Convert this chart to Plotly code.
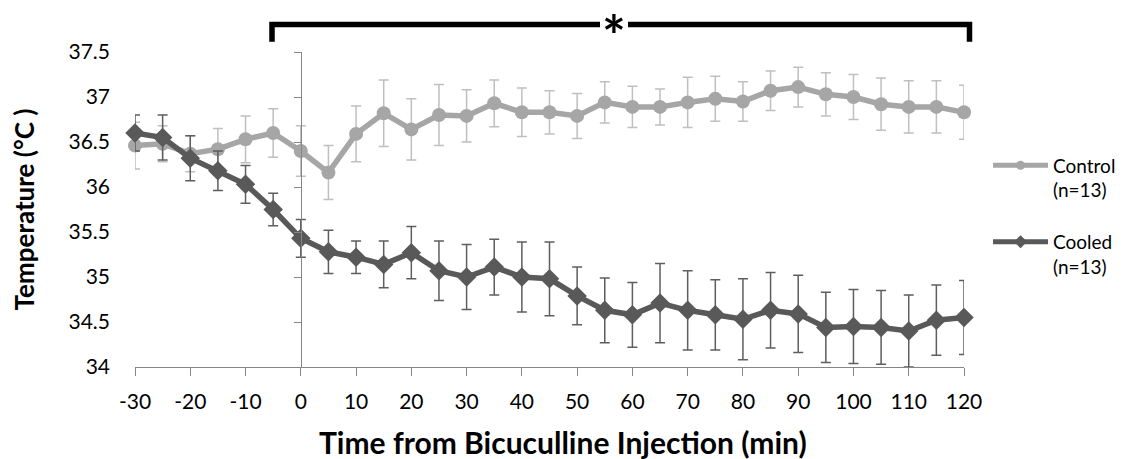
import plotly.graph_objects as go

time_min = [-30, -25, -20, -15, -10, -5, 0, 5, 10, 15, 20, 25, 30, 35, 40, 45,
            50, 55, 60, 65, 70, 75, 80, 85, 90, 95, 100, 105, 110, 115, 120]

control_mean = [36.46, 36.48, 36.37, 36.42, 36.53, 36.60, 36.40, 36.16, 36.59, 36.82,
                36.64, 36.80, 36.79, 36.93, 36.83, 36.83, 36.79, 36.94, 36.89, 36.89,
                36.94, 36.98, 36.95, 37.07, 37.11, 37.03, 37.00, 36.92, 36.89, 36.89, 36.83]
control_err = [0.26, 0.20, 0.20, 0.23, 0.26, 0.27, 0.28, 0.30, 0.31, 0.37,
               0.34, 0.34, 0.29, 0.26, 0.27, 0.24, 0.25, 0.23, 0.23, 0.20,
               0.28, 0.25, 0.22, 0.22, 0.22, 0.24, 0.25, 0.29, 0.29, 0.29, 0.30]

cooled_mean = [36.60, 36.55, 36.32, 36.18, 36.03, 35.75, 35.43, 35.28, 35.22, 35.14,
               35.27, 35.07, 35.00, 35.11, 35.00, 34.98, 34.79, 34.63, 34.58, 34.71,
               34.63, 34.58, 34.53, 34.63, 34.59, 34.44, 34.45, 34.44, 34.40, 34.52, 34.55]
cooled_err = [0.20, 0.25, 0.25, 0.22, 0.21, 0.18, 0.21, 0.24, 0.18, 0.26,
              0.29, 0.33, 0.36, 0.31, 0.39, 0.41, 0.32, 0.36, 0.36, 0.44,
              0.44, 0.39, 0.45, 0.42, 0.43, 0.39, 0.41, 0.41, 0.40, 0.39, 0.41]

x_ticks = list(range(-30, 121, 10))
y_ticks = [34, 34.5, 35, 35.5, 36, 36.5, 37, 37.5]
y_tick_text = ["34", "34.5", "35", "35.5", "36", "36.5", "37", "37.5"]

FONT = "Lato"
CONTROL = "#A6A6A6"
COOLED = "#595959"

fig = go.Figure()

fig.add_trace(go.Scatter(
    x=time_min, y=control_mean, mode="lines+markers", name="Control<br>(n=13)",
    line=dict(color=CONTROL, width=5.5), marker=dict(symbol="circle", size=14, color=CONTROL),
    error_y=dict(type="data", array=control_err, color="#BFBFBF", thickness=1.5, width=5),
    cliponaxis=False, showlegend=False))

fig.add_trace(go.Scatter(
    x=time_min, y=cooled_mean, mode="lines+markers", name="Cooled<br>(n=13)",
    line=dict(color=COOLED, width=5.5), marker=dict(symbol="diamond", size=15, color=COOLED),
    error_y=dict(type="data", array=cooled_err, color="#5E5E5E", thickness=1.5, width=5),
    cliponaxis=False, showlegend=False))

# legend entries
fig.add_trace(go.Scatter(x=[None], y=[None], mode="lines+markers", name="Control<br>(n=13)",
                         line=dict(color=CONTROL, width=5), marker=dict(symbol="circle", size=9, color=CONTROL),
                         legendgroup="a"))
fig.add_trace(go.Scatter(x=[None], y=[None], mode="lines+markers", name="Cooled<br>(n=13)",
                         line=dict(color=COOLED, width=5), marker=dict(symbol="diamond", size=10, color=COOLED),
                         legendgroup="b"))

# vertical axis line crossing at x = 0 (Excel style)
fig.update_layout(
    yaxis2=dict(overlaying="y", anchor="free", position=30 / 150, matches="y",
                range=[34, 37.5], showline=True, linecolor="#868686", linewidth=1,
                ticks="outside", ticklen=7, tickcolor="#868686", tickvals=y_ticks,
                showticklabels=False, showgrid=False, zeroline=False))
fig.add_trace(go.Scatter(x=[None], y=[None], yaxis="y2", showlegend=False, hoverinfo="skip"))

fig.update_xaxes(range=[-30, 120], tickvals=x_ticks, ticktext=[str(v) for v in x_ticks],
                 showline=True, linecolor="#868686", linewidth=1, ticks="outside", ticklen=8,
                 tickcolor="#868686", showgrid=False, zeroline=False,
                 ticklabelstandoff=8,
                 tickfont=dict(family=FONT, size=21, color="black"))
fig.update_layout(yaxis=dict(range=[34, 37.5], tickvals=y_ticks, ticktext=y_tick_text,
                             showline=False, ticks="", showgrid=False, zeroline=False,
                             ticklabelstandoff=24,
                             tickfont=dict(family=FONT, size=21, color="black"),
                             title=dict(text="<b>Temperature (°C )</b>",
                                        font=dict(family=FONT, size=26, color="black"), standoff=26)))

# x-axis title (placed slightly right of centre, as in the original)
fig.add_annotation(x=(563 - 135) / 829, y=(367 - 442) / 315, xref="paper", yref="paper",
                   text="<b>Time from Bicuculline Injection (min)</b>", showarrow=False,
                   xanchor="center", yanchor="middle",
                   font=dict(family=FONT, size=30, color="black"))

# significance bracket
bx0, bx1 = (272 - 135) / 829, (969.5 - 135) / 829
by_top, by_bot = (367 - 24.5) / 315, (367 - 41.7) / 315
gx0, gx1 = (600 - 135) / 829, (628 - 135) / 829
for path in [f"M {bx0},{by_bot} L {bx0},{by_top} L {gx0},{by_top}",
             f"M {gx1},{by_top} L {bx1},{by_top} L {bx1},{by_bot}"]:
    fig.add_shape(type="path", path=path, xref="paper", yref="paper",
                  line=dict(color="black", width=5.5))
fig.add_annotation(x=(614 - 135) / 829, y=(367 - 24) / 315, xref="paper", yref="paper",
                   text="<b>*</b>", showarrow=False, font=dict(family=FONT, size=56, color="black"),
                   yshift=25)

fig.update_layout(
    width=1126, height=459,
    margin=dict(l=135, r=162, t=52, b=92, autoexpand=False),
    plot_bgcolor="white", paper_bgcolor="white",
    font=dict(family=FONT, color="black"),
    legend=dict(x=1.029, y=0.70, xanchor="left", yanchor="top", valign="top",
                font=dict(family=FONT, size=19, color="black"), itemwidth=55,
                tracegroupgap=24, traceorder="grouped", bgcolor="rgba(0,0,0,0)"),
)

fig.write_html("out.html")
